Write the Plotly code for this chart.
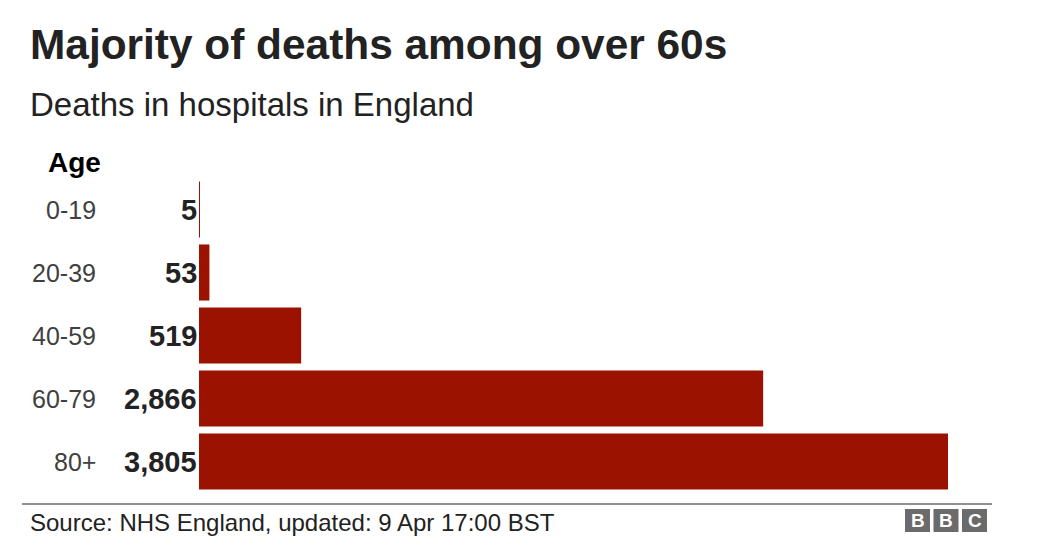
import plotly.graph_objects as go

ages = ["0-19", "20-39", "40-59", "60-79", "80+"]
deaths = [5, 53, 519, 2866, 3805]
value_labels = ["5", "53", "519", "2,866", "3,805"]

title = "Majority of deaths among over 60s"
subtitle = "Deaths in hospitals in England"
source = "Source: NHS England, updated: 9 Apr 17:00 BST"

W, H = 1045, 555
L, R, T, B = 199, 948, 178, 493
FONT = "Liberation Sans, Arial, Helvetica, sans-serif"
BAR = "#9b1300"


def px(x):
    return (x - L) / (R - L)


def py(y):
    return (B - y) / (B - T)


fig = go.Figure(go.Bar(
    x=deaths, y=ages, orientation="h",
    marker=dict(color=BAR, line=dict(width=0)),
    hoverinfo="skip",
))

ann = []
for a, v in zip(ages, value_labels):
    ann.append(dict(x=0, y=a, xref="x", yref="y", text=f"<b>{v}</b>", showarrow=False,
                    xanchor="right", yanchor="middle", xshift=0,
                    font=dict(family=FONT, size=29, color="#222222")))
    ann.append(dict(x=px(98), y=a, xref="paper", yref="y", text=a, showarrow=False,
                    xanchor="right", yanchor="middle",
                    font=dict(family=FONT, size=25, color="#404040")))

ann += [
    dict(x=px(30), y=py(45), xref="paper", yref="paper", text=f"<b>{title}</b>",
         showarrow=False, xanchor="left", yanchor="middle", xshift=-2,
         font=dict(family=FONT, size=42.4, color="#222222")),
    dict(x=px(30), y=py(105), xref="paper", yref="paper", text=subtitle,
         showarrow=False, xanchor="left", yanchor="middle", xshift=-2,
         font=dict(family=FONT, size=33, color="#222222")),
    dict(x=px(101), y=py(162), xref="paper", yref="paper", text="<b>Age</b>",
         showarrow=False, xanchor="right", yanchor="middle", xshift=2,
         font=dict(family=FONT, size=28, color="#000000")),
    dict(x=px(30), y=py(522), xref="paper", yref="paper", text=source,
         showarrow=False, xanchor="left", yanchor="middle", xshift=-2,
         font=dict(family=FONT, size=24, color="#222222")),
]

shapes = [dict(type="line", xref="paper", yref="paper", x0=px(22), x1=px(992),
               y0=py(504), y1=py(504), line=dict(color="#222222", width=1.2))]

# BBC blocks
for i, letter in enumerate(["B", "B", "C"]):
    x0 = 905 + i * 28.5
    shapes.append(dict(type="rect", xref="paper", yref="paper",
                       x0=px(x0), x1=px(x0 + 25), y0=py(532), y1=py(509),
                       fillcolor="#6b6b6b", line=dict(width=0)))
    ann.append(dict(x=px(x0 + 12.5), y=py(520.5), xref="paper", yref="paper",
                    text=f"<b>{letter}</b>", showarrow=False, xanchor="center", yanchor="middle",
                    font=dict(family=FONT, size=19, color="#ffffff")))

fig.update_layout(
    width=W, height=H,
    margin=dict(l=L, r=W - R, t=T, b=H - B, pad=0),
    paper_bgcolor="white", plot_bgcolor="white",
    bargap=0.11,
    showlegend=False,
    xaxis=dict(range=[0, 3805], visible=False, fixedrange=True),
    yaxis=dict(autorange="reversed", showticklabels=False, showgrid=False,
               zeroline=False, showline=False, ticks="", fixedrange=True),
    annotations=ann, shapes=shapes,
)

fig.write_html("out.html", config={"displayModeBar": False})
